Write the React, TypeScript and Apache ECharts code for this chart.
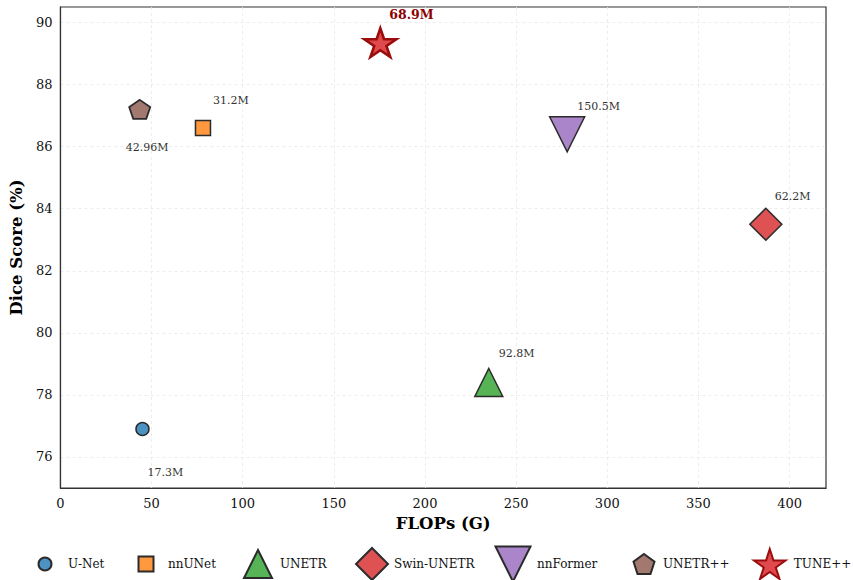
import React, { useEffect, useRef } from "react";
import * as echarts from "echarts";

// ---- data ----
const models = ["U-Net", "nnUNet", "UNETR", "Swin-UNETR", "nnFormer", "UNETR++", "TUNE++"];
const flops = [45, 78.2, 235, 387, 278, 43.5, 175.5];
const dice = [76.9, 86.6, 78.4, 83.5, 86.4, 87.2, 89.35];
const params = ["17.3M", "31.2M", "92.8M", "62.2M", "150.5M", "42.96M", "68.9M"];
const xTicks = [0, 50, 100, 150, 200, 250, 300, 350, 400];
const yTicks = [76, 78, 80, 82, 84, 86, 88, 90];

// ---- styles ----
const PENT = "path://M0,-1 L0.951,-0.309 L0.588,0.809 L-0.588,0.809 L-0.951,-0.309 Z";
const STAR =
  "path://M0,-1 L0.2245,-0.309 L0.951,-0.309 L0.3633,0.118 L0.588,0.809 L0,0.382 L-0.588,0.809 L-0.3633,0.118 L-0.951,-0.309 L-0.2245,-0.309 Z";
const INV_TRI = "path://M0,0 L2,0 L1,2 Z";

const symbols = ["circle", "rect", "triangle", "diamond", INV_TRI, PENT, STAR];
const sizes: number[][] = [[13, 13], [15, 15], [28, 28], [32, 32], [35, 35], [21, 20], [32, 30]];
const fills = ["#4c92c3", "#ff983e", "#56b356", "#de5253", "#aa85ca", "#a3786f", "#e04a4c"];
const borders = ["#2b2b2b", "#2b2b2b", "#2b2b2b", "#2b2b2b", "#2b2b2b", "#2b2b2b", "#9b0d0d"];
const borderWidths = [1.5, 1.5, 1.5, 1.5, 1.5, 1.8, 2.6];
const labelOffsets: number[][] = [[5, 43], [10, -28], [10, -29], [9, -28], [10, -28], [-14, 38], [9, -28]];
const legendCenters = [44, 145, 257, 371, 512, 643, 769];
const legendTextStart = [67, 167, 279, 393, 536, 662, 793];
const legendMidY = 563;

const FONT = "'DejaVu Serif', serif";

export default function App() {
  const ref = useRef<HTMLDivElement>(null);
  useEffect(() => {
    if (!ref.current) return;
    const chart = echarts.init(ref.current, null, { renderer: "svg" });
    const series = models.map((name, i) => ({
      type: "scatter",
      name,
      data: [[flops[i], dice[i]]],
      symbol: symbols[i],
      symbolSize: sizes[i],
      symbolKeepAspect: true,
      z: i === 6 ? 5 : 3,
      itemStyle: {
        color: fills[i],
        borderColor: borders[i],
        borderWidth: borderWidths[i],
        opacity: 1,
      },
      emphasis: { disabled: true },
      label: {
        show: true,
        position: "inside",
        align: "left",
        verticalAlign: "middle",
        offset: labelOffsets[i],
        formatter: params[i],
        fontFamily: FONT,
        fontSize: i === 6 ? 12.5 : 11,
        fontWeight: i === 6 ? "bold" : "normal",
        color: i === 6 ? "#8b0000" : "#333",
      },
    }));
    const legends = models.map((name, i) => {
      const w = sizes[i][0];
      const h = sizes[i][1];
      const left = legendCenters[i] - w / 2;
      const pad = legendTextStart[i] - (legendCenters[i] + w / 2) - 5;
      return {
        data: [name],
        left,
        top: legendMidY - h / 2,
        padding: 0,
        itemWidth: w,
        itemHeight: h,
        selectedMode: false,
        textStyle: {
          fontFamily: FONT,
          fontSize: 12,
          color: "#111",
          padding: [0, 0, 0, pad],
        },
      };
    });
    chart.setOption({
      animation: false,
      backgroundColor: "#fff",
      grid: {
        left: 60,
        right: 27,
        top: 7,
        bottom: 92,
        show: true,
        borderColor: "#333",
        borderWidth: 1.2,
        backgroundColor: "transparent",
      },
      legend: legends,
      xAxis: {
        type: "value",
        min: 0,
        max: 420,
        name: "FLOPs (G)",
        nameLocation: "middle",
        nameGap: 26,
        nameTextStyle: { fontFamily: FONT, fontSize: 16.5, fontWeight: "bold", color: "#000" },
        axisLine: { show: true, lineStyle: { color: "#333", width: 1.2 } },
        axisTick: { show: false, customValues: xTicks },
        axisLabel: { customValues: xTicks, fontFamily: FONT, fontSize: 13, color: "#111", margin: 9 },
        splitLine: { show: true, lineStyle: { color: "#e8e8e8", type: [3, 3], width: 0.8 } },
      },
      yAxis: {
        type: "value",
        min: 75,
        max: 90.5,
        name: "Dice Score (%)",
        nameLocation: "middle",
        nameGap: 33,
        nameTextStyle: { fontFamily: FONT, fontSize: 16.5, fontWeight: "bold", color: "#000" },
        axisLine: { show: true, lineStyle: { color: "#333", width: 1.2 } },
        axisTick: { show: false, customValues: yTicks },
        axisLabel: { customValues: yTicks, fontFamily: FONT, fontSize: 13, color: "#111", margin: 8 },
        splitLine: { show: true, lineStyle: { color: "#e8e8e8", type: [3, 3], width: 0.8 } },
      },
      series,
    });
    return () => chart.dispose();
  }, []);
  return (
    <div
      ref={ref}
      style={{ position: "fixed", left: 0, top: 0, width: 853, height: 580, background: "#fff" }}
    />
  );
}
